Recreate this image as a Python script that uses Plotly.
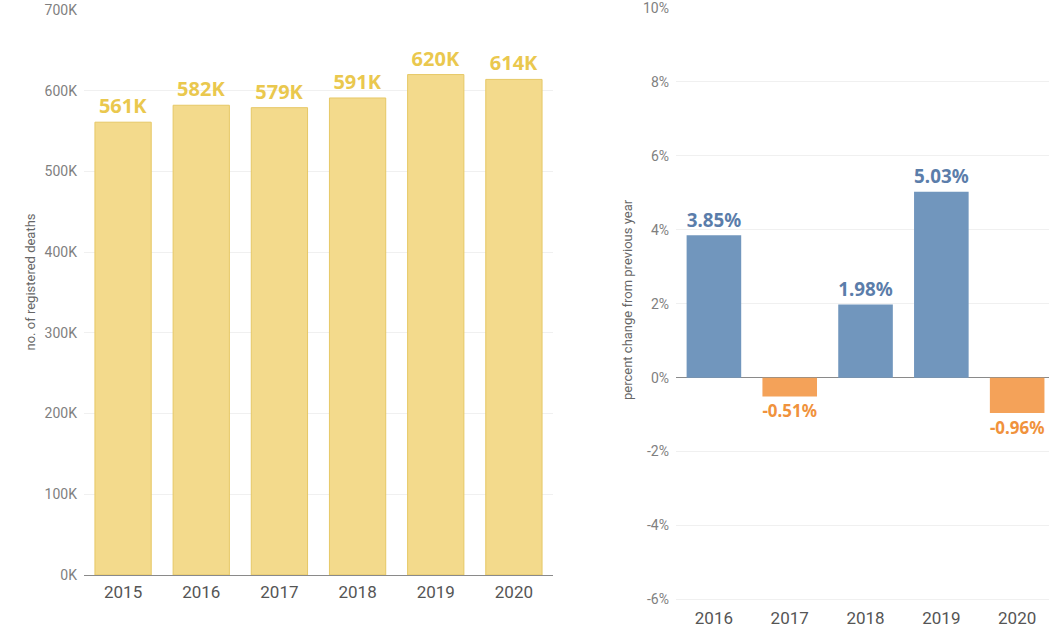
import plotly.graph_objects as go

years_deaths = ["2015", "2016", "2017", "2018", "2019", "2020"]
deaths = [561000, 582000, 579000, 591000, 620000, 614000]
death_labels = ["561K", "582K", "579K", "591K", "620K", "614K"]

years_change = ["2016", "2017", "2018", "2019", "2020"]
pct_change = [3.85, -0.51, 1.98, 5.03, -0.96]
pct_labels = ["3.85%", "-0.51%", "1.98%", "5.03%", "-0.96%"]

left_ticks = [0, 100000, 200000, 300000, 400000, 500000, 600000, 700000]
left_ticktext = ["0K", "100K", "200K", "300K", "400K", "500K", "600K", "700K"]
right_ticks = [-6, -4, -2, 0, 2, 4, 6, 8, 10]
right_ticktext = ["-6%", "-4%", "-2%", "0%", "2%", "4%", "6%", "8%", "10%"]

W, H = 1049, 630
narrow = "Roboto, Liberation Sans Narrow, Arial Narrow, sans-serif"
tick_font = dict(family=narrow, size=14, color="#7f7f7f")
year_font = dict(family=narrow, size=17, color="#555555")
label_family = "Noto Sans, Open Sans, sans-serif"

pos_col, neg_col = "#7196BD", "#F4A259"
pos_txt, neg_txt = "#5B7DAA", "#F0923C"

fig = go.Figure()
fig.add_trace(go.Bar(
    x=years_deaths, y=deaths, text=death_labels, textposition="outside",
    textfont=dict(family=label_family, size=20, color="#EAC84E", weight="bold"),
    marker=dict(color="#F3DA8C", line=dict(color="#E6C866", width=1)),
    cliponaxis=False, xaxis="x", yaxis="y", hoverinfo="skip",
))
fig.add_trace(go.Bar(
    x=years_change, y=pct_change, text=pct_labels, textposition="outside",
    textfont=dict(family=label_family, size=20,
                  color=[pos_txt if v >= 0 else neg_txt for v in pct_change], weight="bold"),
    marker=dict(color=[pos_col if v >= 0 else neg_col for v in pct_change], line=dict(width=0)),
    cliponaxis=False, xaxis="x2", yaxis="y2", hoverinfo="skip",
))

fig.update_layout(
    width=W, height=H, margin=dict(l=0, r=0, t=0, b=0, autoexpand=False),
    paper_bgcolor="white", plot_bgcolor="white", showlegend=False,
    bargap=0.28,
    xaxis=dict(domain=[84 / W, 553 / W], anchor="y", tickfont=year_font, showgrid=False,
               showline=True, linecolor="#8a8a8a", linewidth=1, ticks="", automargin=False,
               ticklabelstandoff=2),
    yaxis=dict(domain=[1 - 575 / H, 1 - 10 / H], anchor="x", range=[0, 700000],
               tickvals=left_ticks, ticktext=left_ticktext, tickfont=tick_font,
               showgrid=True, gridcolor="#f0f0f0", zeroline=False, ticks="",
               ticklabelstandoff=6, automargin=False, ticklabeloverflow="allow"),
    xaxis2=dict(domain=[676 / W, 1.0], anchor="y2", tickfont=year_font, showgrid=False,
                range=[-0.5, 4.42], showline=False, ticks="", automargin=False,
                ticklabelstandoff=4),
    yaxis2=dict(domain=[1 - 602 / H, 1 - 8 / H], anchor="x2", range=[-6.07, 10],
                tickvals=right_ticks, ticktext=right_ticktext, tickfont=tick_font,
                showgrid=True, gridcolor="#f0f0f0", zeroline=True, zerolinecolor="#8a8a8a",
                zerolinewidth=1, ticks="", ticklabelstandoff=6, automargin=False,
                ticklabeloverflow="allow"),
    annotations=[
        dict(text="no. of registered deaths", textangle=-90, x=20 / W, y=1 - 282 / H,
             xref="paper", yref="paper", showarrow=False,
             font=dict(family=narrow, size=13, color="#666666")),
        dict(text="percent change from previous year", textangle=-90, x=627 / W, y=1 - 300 / H,
             xref="paper", yref="paper", showarrow=False,
             font=dict(family=narrow, size=13, color="#666666")),
    ],
)

fig.write_html("out.html")
